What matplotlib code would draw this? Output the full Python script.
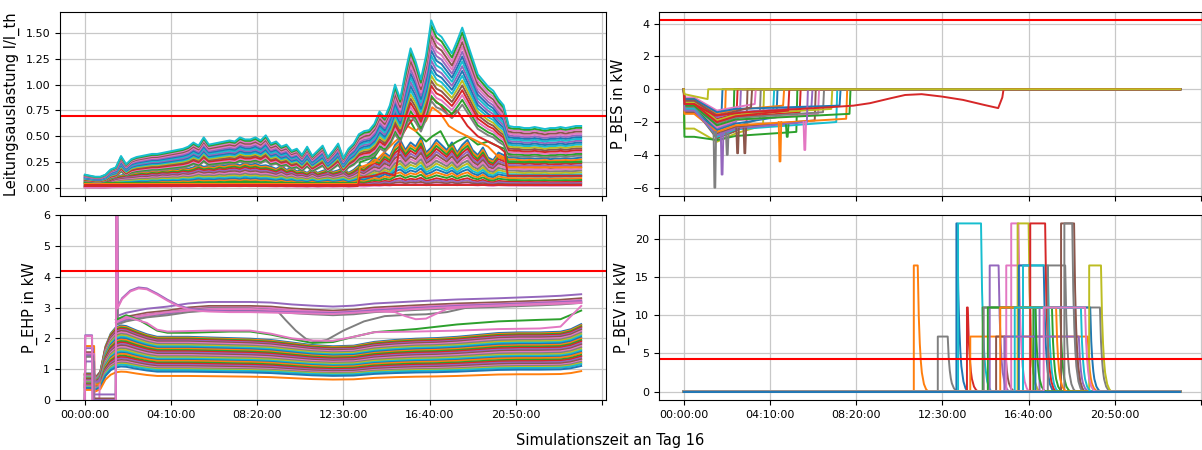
import numpy as np
import matplotlib
matplotlib.use("Agg")
import matplotlib.pyplot as plt

# ---------------- data (hours of day 16) ----------------
# Top-left: line loading envelopes (upper lines / lower lines), 15-min steps
tl_step_h = 0.25
tl_envelope = [0.13, 0.12, 0.11, 0.11, 0.13, 0.18, 0.20, 0.31, 0.23, 0.28, 0.30, 0.31,
               0.32, 0.33, 0.33, 0.34, 0.35, 0.36, 0.37, 0.38, 0.40, 0.44, 0.41, 0.49,
               0.42, 0.43, 0.44, 0.45, 0.46, 0.45, 0.49, 0.47, 0.47, 0.49, 0.46, 0.51,
               0.43, 0.45, 0.40, 0.42, 0.36, 0.38, 0.32, 0.40, 0.31, 0.36, 0.41, 0.30,
               0.36, 0.43, 0.29, 0.38, 0.43, 0.52, 0.55, 0.56, 0.62, 0.74, 0.68, 0.80,
               1.00, 0.86, 1.12, 1.35, 1.22, 1.05, 1.28, 1.62, 1.50, 1.46, 1.38, 1.30,
               1.42, 1.55, 1.40, 1.25, 1.10, 1.04, 0.98, 0.94, 0.86, 0.80, 0.60, 0.59,
               0.59, 0.58, 0.58, 0.59, 0.58, 0.57, 0.58, 0.58, 0.59, 0.58, 0.59, 0.60, 0.60]
tl_envelope_low = [0.13, 0.12, 0.12, 0.11, 0.12, 0.16, 0.22, 0.25, 0.27, 0.28, 0.30, 0.32,
                   0.31, 0.34, 0.33, 0.36, 0.35, 0.37, 0.36, 0.40, 0.38, 0.41, 0.46, 0.42,
                   0.44, 0.42, 0.46, 0.44, 0.47, 0.48, 0.45, 0.50, 0.46, 0.48, 0.44, 0.45,
                   0.42, 0.38, 0.44, 0.36, 0.40, 0.33, 0.35, 0.30, 0.38, 0.30, 0.34, 0.37,
                   0.32, 0.35, 0.40, 0.30, 0.36, 0.45, 0.40, 0.50, 0.60, 0.55, 0.70, 0.62,
                   0.85, 0.95, 0.75, 0.90, 0.82, 1.00, 0.70, 0.80, 0.95, 0.85, 0.75, 0.90,
                   0.70, 0.85, 0.95, 0.75, 0.65, 0.80, 0.60, 0.55, 0.70, 0.65, 0.60, 0.60,
                   0.59, 0.58, 0.59, 0.58, 0.58, 0.59, 0.57, 0.58, 0.58, 0.59, 0.58, 0.59, 0.60]
tl_shares_high = [0.52, 0.55, 0.58, 0.61, 0.64, 0.67, 0.70, 0.73, 0.76, 0.79, 0.82, 0.85,
                  0.88, 0.91, 0.94, 0.97, 1.00]
tl_shares_low = [0.49, 0.46, 0.43, 0.40, 0.37, 0.34, 0.31, 0.28, 0.25, 0.22, 0.19, 0.16,
                 0.13, 0.10, 0.08, 0.06, 0.04]
tl_extra_hours = [0, 13.2, 13.3, 14, 14.5, 15, 15.3, 15.6, 16, 16.5, 16.8, 17.2,
                  17.6, 18, 18.5, 19, 19.5, 20, 20.3, 20.45, 24]
tl_extra_green = [0.05, 0.05, 0.25, 0.30, 0.45, 0.60, 0.85, 0.70, 0.55, 0.45, 0.50, 0.55,
                  0.40, 0.45, 0.50, 0.42, 0.45, 0.40, 0.38, 0.25, 0.25]
tl_extra_orange = [0.04, 0.04, 0.20, 0.25, 0.35, 0.45, 0.50, 0.60, 0.55, 0.65, 0.78, 0.72,
                   0.60, 0.55, 0.50, 0.45, 0.40, 0.30, 0.28, 0.20, 0.20]
tl_extra_red = [0.02, 0.02, 0.10, 0.12, 0.15, 0.12, 0.50, 0.60, 0.70, 0.78, 0.87, 0.80,
                0.70, 0.75, 0.60, 0.50, 0.45, 0.40, 0.35, 0.12, 0.12]
tl_limit = 0.7

# Top-right: battery storage power
bes_v0 = [-0.6, -0.8, -1.0, -0.7, -0.9, -1.2, -0.5, -1.1, -2.4, -0.8, -1.3, -0.6, -2.9, -1.0,
          -0.7, -1.4, -0.9, -1.1, -0.8, -1.2, -0.6, -1.5, -1.0, -0.9, -1.3, -0.7]
bes_v1 = [-1.6, -2.2, -2.6, -1.8, -2.4, -3.0, -1.3, -2.8, -3.2, -1.9, -2.5, -1.5, -3.1, -2.0,
          -1.7, -2.7, -2.3, -2.1, -1.9, -2.9, -1.4, -2.6, -2.2, -2.0, -2.8, -1.6]
bes_v2 = [-1.0, -1.5, -1.9, -1.2, -1.6, -2.1, -0.9, -1.8, -2.2, -1.3, -1.7, -1.0, -2.6, -1.4,
          -1.1, -1.9, -1.5, -1.4, -1.2, -2.0, -1.0, -1.8, -1.5, -1.3, -2.0, -1.1]
bes_end_h = [1.87, 2.03, 2.44, 2.60, 2.76, 3.08, 3.48, 3.72, 3.88, 4.37, 4.53, 4.85, 5.49,
             5.65, 6.22, 6.38, 6.54, 6.78, 7.18, 7.42, 7.58, 7.90, 8.06, 5.10, 6.00, 3.30]
bes_spike_h = [1.50, 1.85, 2.10, 2.60, 2.95, 4.65, 5.00, 5.85]
bes_spike_kw = [-6.0, -5.2, -4.0, -3.9, -3.9, -4.4, -2.9, -3.7]
bes_spike_base = [-2.6, -2.7, -2.7, -2.4, -2.4, -2.0, -2.2, -2.0]
bes_red_hours = [0, 0.03, 0.5, 1.5, 3, 5, 7, 8.2, 9, 10, 10.7, 11.5, 12.5, 13.5, 14.5,
                 15.2, 15.4, 15.46, 24]
bes_red_kw = [0, -0.9, -0.9, -1.6, -1.4, -1.25, -1.1, -1.0, -0.85, -0.55, -0.35, -0.3,
              -0.45, -0.65, -0.95, -1.15, -0.5, 0, 0]
bes_olive_hours = [0, 0.03, 1.15, 1.18, 24]
bes_olive_kw = [0, -0.3, -0.6, 0, 0]
bes_limit = 4.2

# Bottom-left: heat pump power
ehp_hours = [0, 0.45, 0.5, 0.75, 1.0, 1.25, 1.5, 1.75, 2.0, 2.5, 3.0, 3.5, 4.0, 5.0, 6.0,
             7.0, 8.0, 9.0, 10.0, 11.0, 12.0, 13.0, 14.0, 15.0, 16.0, 17.0, 18.0, 19.0,
             20.0, 21.0, 22.0, 23.0, 23.5, 24.0]
ehp_shape = [0.42, 0.42, 0.35, 0.45, 0.85, 1.05, 1.15, 1.18, 1.17, 1.10, 1.04, 1.00, 1.00,
             1.00, 0.99, 0.98, 0.97, 0.95, 0.91, 0.87, 0.85, 0.86, 0.92, 0.95, 0.97, 0.98,
             1.00, 1.03, 1.06, 1.07, 1.07, 1.08, 1.12, 1.20]
ehp_factors = [2.05, 2.02, 1.99, 1.96, 1.93, 1.90, 1.86, 1.82, 1.78, 1.74, 1.70, 1.66, 1.62,
               1.58, 1.54, 1.50, 1.46, 1.42, 1.38, 1.34, 1.30, 1.27, 1.22, 1.18, 1.14, 1.10,
               1.06, 1.03, 1.00, 0.97, 0.92, 0.78]
ehp_up_hours = [0, 0.02, 0.4, 0.42, 1.5, 1.52, 1.56, 1.58, 2, 3, 4, 5, 6, 8, 9, 10, 11, 12,
                13, 14, 16, 18, 20, 22, 23, 24]
ehp_up_kw = [0, 1.5, 1.5, 0, 0, 7.0, 7.0, 2.55, 2.65, 2.78, 2.85, 2.95, 3.0, 3.0, 2.98,
             2.92, 2.88, 2.85, 2.88, 2.95, 3.02, 3.08, 3.12, 3.17, 3.2, 3.25]
ehp_up_offsets = [0.18, 0.05, 0.0, -0.05, -0.1]
ehp_hump_hours = [0, 0.02, 0.35, 0.37, 1.5, 1.52, 1.56, 1.58, 1.8, 2.2, 2.6, 3.0, 3.5, 4.0,
                  4.5, 5.0, 5.5, 6.0, 7, 8, 10, 12, 14, 16, 18, 20, 22, 24]
ehp_hump_kw = [0, 2.1, 2.1, 0, 0, 7.0, 7.0, 3.0, 3.3, 3.55, 3.65, 3.62, 3.45, 3.25, 3.08,
               2.97, 2.92, 2.90, 2.88, 2.88, 2.85, 2.82, 2.9, 2.98, 3.05, 3.1, 3.15, 3.2]
ehp_grey_hours = [1.55, 2, 4, 6, 8, 9.3, 9.7, 10.2, 10.7, 11.2, 11.7, 12.5, 13.5, 14.5,
                  15.5, 16.5, 17.5, 18.5, 20, 22, 24]
ehp_grey_kw = [2.6, 2.65, 2.85, 2.98, 2.97, 2.9, 2.6, 2.25, 1.98, 1.88, 1.95, 2.25, 2.55,
               2.72, 2.76, 2.78, 2.85, 3.0, 3.08, 3.12, 3.15]
ehp_pinkdip_hours = [1.55, 2, 4, 6, 8, 10, 12, 14, 15, 15.5, 16, 16.5, 17, 17.5, 18.5, 20,
                     22, 24]
ehp_pinkdip_kw = [2.55, 2.65, 2.85, 2.95, 2.95, 2.88, 2.82, 2.88, 2.85, 2.72, 2.62, 2.64,
                  2.8, 2.95, 3.02, 3.06, 3.1, 3.15]
ehp_green_hours = [1.5, 2.0, 2.6, 3.0, 3.5, 4.0, 5.0, 6.0, 7.0, 8.0, 9.0, 10.0, 11.0, 12.0,
                   13.0, 14.0, 16.0, 18.0, 20.0, 22.0, 23.0, 24.0]
ehp_green_kw = [2.6, 2.75, 2.6, 2.45, 2.25, 2.18, 2.18, 2.2, 2.22, 2.22, 2.12, 1.98, 1.85,
                1.88, 2.05, 2.2, 2.3, 2.45, 2.55, 2.6, 2.62, 2.9]
ehp_pink2_hours = [1.5, 2.0, 3.0, 3.5, 4.0, 6.0, 8.0, 9.0, 10.0, 11.0, 12.0, 13.0, 14.0,
                   16.0, 18.0, 20.0, 22.0, 23.0, 24.0]
ehp_pink2_kw = [2.5, 2.7, 2.5, 2.28, 2.22, 2.25, 2.25, 2.15, 2.0, 1.93, 1.92, 2.05, 2.2,
                2.22, 2.25, 2.3, 2.32, 2.38, 3.05]
ehp_box_hours = [0, 0.02, 0.45, 0.47, 0.7, 0.72]
ehp_box_kw = [[0, 1.75, 1.75, 0.5, 0.5, 0.6], [0, 1.5, 1.5, 0, 0, 0.5],
              [0, 1.25, 1.25, 0.6, 0.6, 0.7]]
ehp_limit = 4.2

# Bottom-right: EV charging events
bev_start_h = [11.12, 12.28, 13.18, 13.26, 13.69, 13.85, 14.45, 14.50, 14.79, 15.10, 15.59,
               15.83, 16.14, 16.20, 16.40, 16.75, 16.90, 17.20, 17.60, 15.50, 17.00, 18.24,
               18.40, 19.60, 14.70, 15.30, 16.00, 17.40]
bev_end_h = [11.31, 12.76, 13.22, 14.37, 13.73, 19.53, 17.80, 20.12, 15.22, 15.52, 16.70,
             16.18, 16.67, 17.40, 17.60, 17.47, 18.20, 18.90, 18.44, 19.10, 19.65, 18.87,
             18.78, 20.17, 17.00, 18.00, 19.20, 19.40]
bev_kw = [16.5, 7.2, 22.0, 22.0, 11.0, 7.2, 11.0, 11.0, 16.5, 7.2, 16.5, 22.0, 22.0, 16.5,
          16.5, 22.0, 11.0, 11.0, 16.5, 7.2, 11.0, 22.0, 22.0, 16.5, 11.0, 11.0, 11.0, 11.0]
bev_tail_dt_h = [0, 0.05, 0.10, 0.15, 0.20, 0.30, 0.40, 0.50]
bev_tail_frac = [1, 0.60, 0.38, 0.24, 0.15, 0.06, 0.02, 0]
bev_limit = 4.2

# ---------------- styling ----------------
tl_high_colors = ["tab:gray", "tab:green", "tab:pink", "tab:red", "tab:brown", "tab:olive",
                  "tab:cyan", "tab:blue", "tab:purple", "tab:cyan", "tab:blue", "tab:purple",
                  "tab:pink", "tab:brown", "tab:pink", "tab:green", "tab:cyan"]
bev_colors = ["tab:orange", "tab:gray", "tab:blue", "tab:cyan", "tab:red", "tab:orange",
              "tab:green", "tab:gray", "tab:purple", "tab:brown", "tab:pink", "tab:pink",
              "tab:olive", "tab:blue", "tab:cyan", "tab:red", "tab:green", "tab:purple",
              "tab:gray", "tab:purple", "tab:blue", "tab:brown", "tab:gray", "tab:olive",
              "tab:green", "tab:orange", "tab:cyan", "tab:pink"]

H = 3600.0
plt.rcParams['font.family'] = ['DejaVu Sans']

fig = plt.figure(figsize=(12.02, 4.5), dpi=100)
W, Hh = 1202.0, 450.0
def pos(x0, x1, y0, y1):
    return [x0 / W, 1 - y1 / Hh, (x1 - x0) / W, (y1 - y0) / Hh]

ax_tl = fig.add_axes(pos(60, 606, 12, 196))
ax_tr = fig.add_axes(pos(659, 1205, 12, 196), sharex=ax_tl)
ax_bl = fig.add_axes(pos(60, 606, 215, 400), sharex=ax_tl)
ax_br = fig.add_axes(pos(659, 1205, 215, 400), sharex=ax_tl)

lw = 1.4
lab_fs = 10.5

# top-left
t_tl = np.arange(len(tl_envelope)) * tl_step_h * H
env = np.array(tl_envelope)
env_low = np.array(tl_envelope_low)
for s in tl_shares_low:
    ax_tl.plot(t_tl, s * env_low, lw=lw)
xh = np.array(tl_extra_hours) * H
ax_tl.plot(xh, tl_extra_green, color="tab:green", lw=lw)
ax_tl.plot(xh, tl_extra_orange, color="tab:orange", lw=lw)
ax_tl.plot(xh, tl_extra_red, color="tab:red", lw=lw)
for s, c in zip(tl_shares_high, tl_high_colors):
    ax_tl.plot(t_tl, s * env, color=c, lw=lw)
ax_tl.plot([0, 24 * H], [0.03, 0.03], color="tab:red", lw=lw)
ax_tl.axhline(tl_limit, color="red", lw=1.5)
ax_tl.set_ylabel("Leitungsauslastung I/I_th", fontsize=lab_fs)

# top-right
for v0, v1, v2, te in zip(bes_v0, bes_v1, bes_v2, bes_end_h):
    cand_h = [0, 0.03, 0.5, 1.6, 2.5]
    cand_v = [0, v0, v0, v1, (v1 + v2) / 2]
    hrs = [h for h in cand_h if h < te - 0.05]
    kw = cand_v[:len(hrs)]
    last = v2 if te > 2.6 else kw[-1]
    hrs = hrs + [te - 0.05, te, 24]
    kw = kw + [last, 0, 0]
    ax_tr.plot(np.array(hrs) * H, kw, lw=lw)
spike_cols = ["tab:gray", "tab:purple", "tab:gray", "tab:brown", "tab:brown", "tab:orange",
              "tab:green", "tab:pink"]
for h, k, b, c in zip(bes_spike_h, bes_spike_kw, bes_spike_base, spike_cols):
    ax_tr.plot(np.array([h - 0.06, h - 0.02, h + 0.02, h + 0.06]) * H, [b, k, k, b], color=c, lw=lw)
ax_tr.plot(np.array(bes_red_hours) * H, bes_red_kw, color="tab:red", lw=lw)
ax_tr.plot(np.array(bes_olive_hours) * H, bes_olive_kw, color="tab:olive", lw=lw)
ax_tr.axhline(bes_limit, color="red", lw=1.5)
ax_tr.set_ylabel("P_BES in kW", fontsize=lab_fs)

# bottom-left
eh = np.array(ehp_hours) * H
shape = np.array(ehp_shape)
for f in ehp_factors:
    ax_bl.plot(eh, f * shape, lw=lw)
for hk, bx in zip(["tab:orange", "tab:pink", "tab:purple"], ehp_box_kw):
    ax_bl.plot(np.array(ehp_box_hours) * H, bx, color=hk, lw=lw)
up_cols = ["tab:purple", "tab:brown", "tab:pink", "tab:purple", "tab:gray"]
for off, c in zip(ehp_up_offsets, up_cols):
    ax_bl.plot(np.array(ehp_up_hours) * H, np.array(ehp_up_kw) + off, color=c, lw=lw)
ax_bl.plot(np.array(ehp_grey_hours) * H, ehp_grey_kw, color="tab:gray", lw=lw)
ax_bl.plot(np.array(ehp_pinkdip_hours) * H, ehp_pinkdip_kw, color="tab:pink", lw=lw)
ax_bl.plot(np.array(ehp_green_hours) * H, ehp_green_kw, color="tab:green", lw=lw)
ax_bl.plot(np.array(ehp_pink2_hours) * H, ehp_pink2_kw, color="tab:pink", lw=lw)
ax_bl.plot(np.array(ehp_hump_hours) * H, ehp_hump_kw, color="tab:purple", lw=lw)
ax_bl.plot(np.array(ehp_hump_hours) * H, np.array(ehp_hump_kw) - 0.03, color="tab:pink", lw=lw)
ax_bl.axhline(ehp_limit, color="red", lw=1.5)
ax_bl.set_ylim(0, 6)
ax_bl.set_ylabel("P_EHP in kW", fontsize=lab_fs)

# bottom-right
tail_dt = np.array(bev_tail_dt_h)
tail_f = np.array(bev_tail_frac)
for ts, te, p, c in zip(bev_start_h, bev_end_h, bev_kw, bev_colors):
    hrs = np.concatenate([[0, ts, ts], te + tail_dt, [24]])
    kw = np.concatenate([[0, 0, p], p * tail_f, [0]])
    ax_br.plot(hrs * H, kw, color=c, lw=lw)
ax_br.plot([0, 24 * H], [0, 0], color="tab:blue", lw=lw)
ax_br.axhline(bev_limit, color="red", lw=1.5)
ax_br.set_ylabel("P_BEV in kW", fontsize=lab_fs)

# axes formatting
ticks = [0, 15000, 30000, 45000, 60000, 75000, 90000]
def fmt(s):
    return "%02d:%02d:%02d" % (s // 3600, (s % 3600) // 60, s % 60)
labels = [fmt(t) for t in ticks[:-1]] + [""]
for ax in (ax_tl, ax_tr, ax_bl, ax_br):
    ax.grid(True, color="#c8c8c8", lw=0.9)
    ax.set_axisbelow(True)
    ax.tick_params(labelsize=8)
ax_tl.set_xlim(-0.05 * 86400, 1.05 * 86400)
ax_bl.set_xticks(ticks, labels)
for ax in (ax_tl, ax_tr):
    ax.tick_params(labelbottom=False)
ax_br.tick_params(labelbottom=True)
ax_tl.yaxis.set_major_formatter(matplotlib.ticker.FormatStrFormatter("%.2f"))

fig.text(0.508, 0.022, "Simulationszeit an Tag 16", ha="center", va="center", fontsize=lab_fs)

fig.savefig("out.png", dpi=100)
